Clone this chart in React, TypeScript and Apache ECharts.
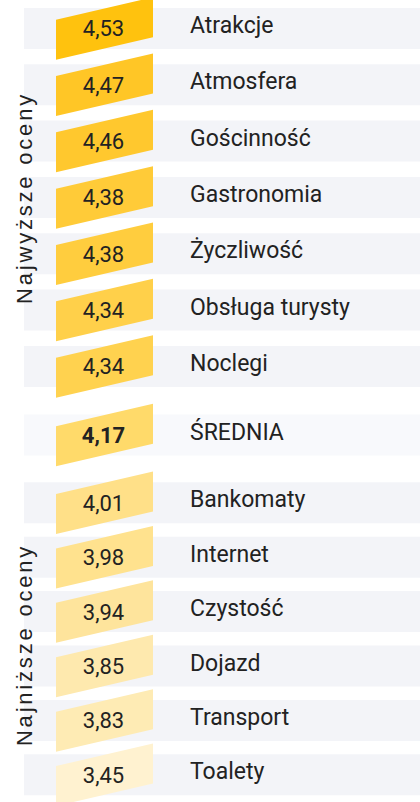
import React, { useEffect, useRef } from "react";
import * as echarts from "echarts";

// ---- data ----
const topCategories = ["Atrakcje", "Atmosfera", "Gościnność", "Gastronomia", "Życzliwość", "Obsługa turysty", "Noclegi"];
const topValues = [4.53, 4.47, 4.46, 4.38, 4.38, 4.34, 4.34];
const averageCategory = ["ŚREDNIA"];
const averageValue = [4.17];
const bottomCategories = ["Bankomaty", "Internet", "Czystość", "Dojazd", "Transport", "Toalety"];
const bottomValues = [4.01, 3.98, 3.94, 3.85, 3.83, 3.45];
const groupTitles = ["Najwyższe oceny", "Najniższe oceny"];

// ---- styles ----
const topShades = ["#FFC20E", "#FFC626", "#FFC82E", "#FFCB38", "#FFCD3E", "#FFD04A", "#FFD24F"];
const averageShades = ["#FFDA6A"];
const bottomShades = ["#FFE088", "#FFE28E", "#FEE49C", "#FEE9AE", "#FEEBB4", "#FFF2D0"];
const BAND = "#F3F4F8";
const BAND_AVG = "#F8F9FC";
const TEXT = "#222222";
const SHAPE_L = 56;
const SHAPE_R = 153;

const fmt = (v: number) => v.toFixed(2).replace(".", ",");

function makeRender(cats: string[], vals: number[], shades: string[], bold: boolean, band: string) {
  return (params: any, api: any) => {
    const idx = api.value(1);
    const cy = api.coord([0, idx])[1];
    return {
      type: "group",
      children: [
        { type: "rect", shape: { x: 24, y: cy - 20.5, width: 396, height: 41 }, style: { fill: band } },
        {
          type: "polygon",
          shape: {
            points: [
              [SHAPE_L, cy - 8.75],
              [SHAPE_R, cy - 31.25],
              [SHAPE_R, cy + 8.75],
              [SHAPE_L, cy + 31.25],
            ],
          },
          style: { fill: shades[idx] },
        },
        {
          type: "text",
          x: 103.5,
          y: cy + 0.5,
          style: {
            text: fmt(vals[idx]),
            textAlign: "center",
            textVerticalAlign: "middle",
            fontSize: 22,
            fontFamily: "Roboto",
            fontWeight: bold ? "bold" : "normal",
            fill: TEXT,
          },
        },
        {
          type: "text",
          x: 190,
          y: cy - 3,
          style: {
            text: cats[idx],
            textAlign: "left",
            textVerticalAlign: "middle",
            fontSize: 23,
            fontFamily: "Roboto",
            fill: TEXT,
          },
        },
      ],
    };
  };
}

export default function App() {
  const ref = useRef<HTMLDivElement>(null);
  useEffect(() => {
    if (!ref.current) return;
    const chart = echarts.init(ref.current, null, { renderer: "svg" });
    const groups = [
      { cats: topCategories, vals: topValues, shades: topShades, bold: false, band: BAND, top: 0.3, height: 394.3 },
      { cats: averageCategory, vals: averageValue, shades: averageShades, bold: true, band: BAND_AVG, top: 414.5, height: 41 },
      { cats: bottomCategories, vals: bottomValues, shades: bottomShades, bold: false, band: BAND, top: 475.6, height: 334.2 },
    ];
    chart.setOption({
      animation: false,
      grid: groups.map((g) => ({ left: 0, right: 0, top: g.top, height: g.height })),
      xAxis: groups.map((g, i) => ({ type: "value", gridIndex: i, min: 0, max: 5, show: false })),
      yAxis: groups.map((g, i) => ({ type: "category", gridIndex: i, data: g.cats, inverse: true, show: false })),
      series: groups.map((g, i) => ({
        type: "custom",
        xAxisIndex: i,
        yAxisIndex: i,
        encode: { x: 0, y: 1 },
        data: g.vals.map((v, j) => [v, j]),
        renderItem: makeRender(g.cats, g.vals, g.shades, g.bold, g.band),
      })),
      graphic: [
        {
          type: "text",
          x: 24,
          y: 198,
          rotation: Math.PI / 2,
          z: 100,
          style: {
            text: groupTitles[0],
            textAlign: "center",
            textVerticalAlign: "middle",
            fontSize: 22,
            fontFamily: "Liberation Sans",
            fill: TEXT,
          },
        },
        {
          type: "text",
          x: 24,
          y: 645,
          rotation: Math.PI / 2,
          z: 100,
          style: {
            text: groupTitles[1],
            textAlign: "center",
            textVerticalAlign: "middle",
            fontSize: 22,
            fontFamily: "Liberation Sans",
            fill: TEXT,
          },
        },
      ],
    });
    return () => chart.dispose();
  }, []);
  return (
    <>
      <style>{`#chart-root text[style*="Liberation"], #chart-root text[font-family*="Liberation"] { letter-spacing: 2.8px; }`}</style>
      <div
        id="chart-root"
        ref={ref}
        style={{ position: "fixed", left: 0, top: 0, width: 420, height: 802, background: "#ffffff" }}
      />
    </>
  );
}
